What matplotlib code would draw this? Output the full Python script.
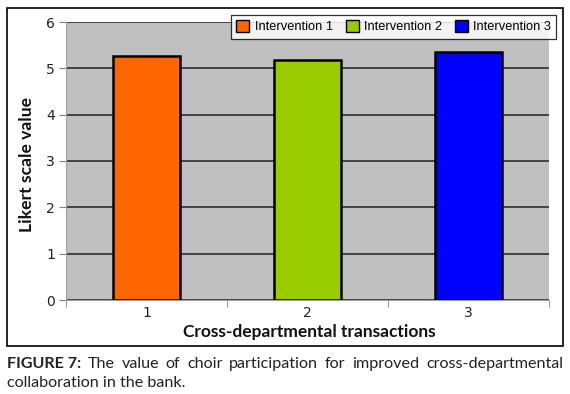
import matplotlib
matplotlib.use("Agg")
import matplotlib.pyplot as plt
from matplotlib.patches import Rectangle, Patch

categories = ["1", "2", "3"]
series_names = ["Intervention 1", "Intervention 2", "Intervention 3"]
values = [5.27, 5.18, 5.36]
colors = ["#FF6600", "#99CC00", "#0000FF"]
yticks = [0, 1, 2, 3, 4, 5, 6]
xlabel = "Cross-departmental transactions"
ylabel = "Likert scale value"
caption_bold = "FIGURE 7:"
caption_line1 = "The value of choir participation for improved cross-departmental"
caption_line2 = "collaboration in the bank."

W, H = 570, 394
fig = plt.figure(figsize=(W / 100, H / 100), dpi=100)
fig.patch.set_facecolor("white")

def fx(px):
    return px / W

def fy(py):
    return (H - py) / H

# chart frame
fig.patches.append(Rectangle((fx(7), fy(346)), fx(563) - fx(7), fy(8) - fy(346),
                             transform=fig.transFigure, fill=False,
                             edgecolor="black", linewidth=1.2, zorder=0))

ax = fig.add_axes([fx(66), fy(300), fx(549) - fx(66), fy(22) - fy(300)])
ax.set_facecolor("#C0C0C0")
x = list(range(len(categories)))
for i in x:
    ax.bar(x[i], values[i], width=0.41, color=colors[i], edgecolor="black",
           linewidth=1.8, zorder=3, label=series_names[i])
ax.set_xlim(-0.5, len(categories) - 0.5)
ax.set_ylim(0, 6)
ax.set_yticks(yticks)
ax.set_yticklabels([str(t) for t in yticks], fontsize=10, family="DejaVu Sans",
                   color="#222222")
ax.set_xticks(x)
ax.set_xticklabels(categories, fontsize=10, family="DejaVu Sans", color="#222222")
ax.set_xticks([i - 0.5 for i in range(len(categories) + 1)], minor=True)
ax.tick_params(axis="x", which="major", length=0, pad=4)
ax.tick_params(axis="x", which="minor", length=5, color="#808080", direction="out")
ax.tick_params(axis="y", length=5, color="#808080", pad=3)
ax.grid(axis="y", color="#222222", linewidth=1.1, zorder=1)
for s in ["top", "right"]:
    ax.spines[s].set_visible(False)
for s in ["left", "bottom"]:
    ax.spines[s].set_color("#A0A0A0")
    ax.spines[s].set_linewidth(0.8)
ax.set_axisbelow(True)

fig.text(fx(309), fy(332), xlabel, fontsize=12.5, fontweight="bold", family="Lato",
         ha="center", va="center", color="#111111")
fig.text(fx(27), fy(165), ylabel, fontsize=12.6, fontweight="bold", family="Lato",
         ha="center", va="center", rotation=90, color="#111111")

handles = [Patch(facecolor=colors[i], edgecolor="black", linewidth=1.0) for i in range(3)]
leg = fig.legend(handles, series_names, loc="upper right",
                 bbox_to_anchor=(fx(556), fy(15)), bbox_transform=fig.transFigure,
                 ncol=3, prop={"family": "Liberation Sans", "size": 9.3},
                 frameon=True, fancybox=False,
                 handlelength=1.0, handleheight=1.0, handletextpad=0.4,
                 columnspacing=1.0, borderpad=0.4, borderaxespad=0)
leg.get_frame().set_edgecolor("black")
leg.get_frame().set_linewidth(0.9)

# caption, justified first line
fig.canvas.draw()
r = fig.canvas.get_renderer()
left, right = 7, 563
cap_size = 11.6
tb = fig.text(fx(left), fy(368), caption_bold, fontsize=cap_size, fontweight="bold",
              family="Lato", va="baseline", ha="left", color="#222222")
words = caption_line1.split()
txts = []
for w in words:
    t = fig.text(0, fy(368), w, fontsize=cap_size, family="Lato", va="baseline",
                 ha="left", color="#222222")
    txts.append(t)
fig.canvas.draw()
bw = tb.get_window_extent(r).width
ws = [t.get_window_extent(r).width for t in txts]
total = bw + sum(ws)
gap = (right - left - total) / len(words)
pos = left + bw + gap
for t, w in zip(txts, ws):
    t.set_x(fx(pos))
    pos += w + gap
fig.text(fx(left), fy(387), caption_line2, fontsize=cap_size, family="Lato",
         va="baseline", ha="left", color="#222222")

fig.savefig("out.png", dpi=100)
